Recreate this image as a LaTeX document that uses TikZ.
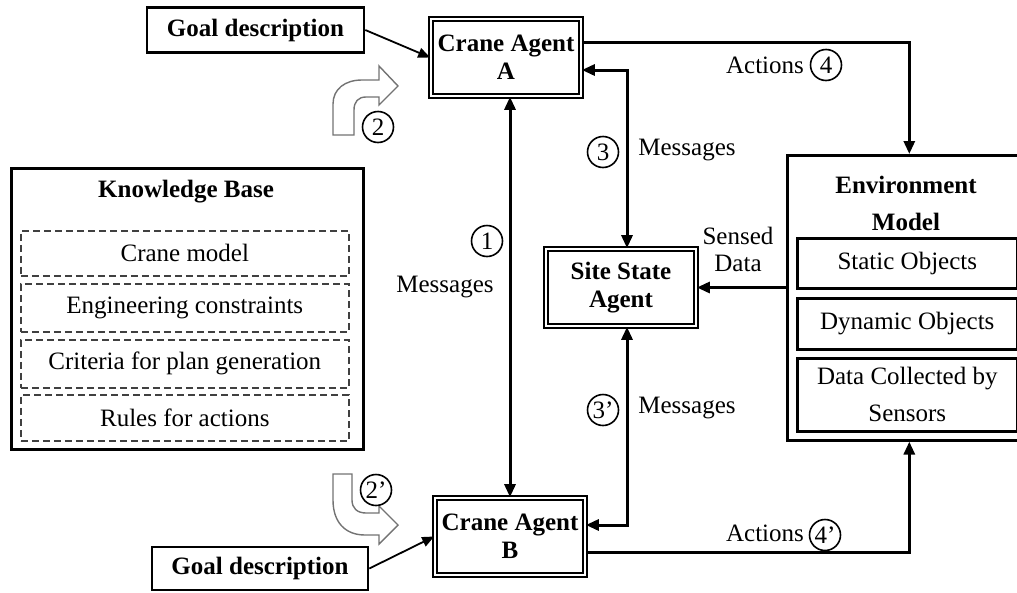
\documentclass[tikz,border=0pt]{standalone}
\usepackage{fontspec}
\setmainfont{Liberation Serif}
\usetikzlibrary{arrows.meta,calc}
\begin{document}
\begin{tikzpicture}[x=1pt,y=-1pt,
  font=\fontsize{25}{28}\selectfont,
  plainbox/.style={draw, line width=2.6pt, inner sep=0pt, align=center},
  dbox/.style={draw, double, line width=1.9pt, double distance=2.4pt, inner sep=0pt,
    minimum width=149.8pt, minimum height=76.8pt, align=center, font=\fontsize{25}{28}\selectfont\bfseries},
  dashbox/.style={draw=black!75, dash pattern=on 7pt off 4pt, line width=1.6pt, inner sep=0pt,
    minimum width=328pt, anchor=north west},
  subbox/.style={draw, line width=2.6pt, inner sep=0pt, minimum width=220pt, anchor=north west, align=center},
  numc/.style={circle, draw, line width=1.6pt, minimum size=31pt, inner sep=0pt, fill=white},
  lbl/.style={inner sep=0pt, align=center},
  conn/.style={line width=3pt, -{Triangle[length=13pt,width=11pt]}},
  biconn/.style={line width=3pt, {Triangle[length=13pt,width=11pt]}-{Triangle[length=13pt,width=11pt]}},
  thinconn/.style={line width=1.8pt, -{Triangle[length=12pt,width=10pt]}},
  hollow/.style={draw=black!55, line width=1.4pt, fill=white, line join=miter}
]
\useasboundingbox (0,0) rectangle (1017,592);

% boxes
\node[plainbox, font=\fontsize{25}{28}\selectfont\bfseries, minimum width=217pt, minimum height=45pt] (goalA) at (255.5,30) {Goal description};
\node[plainbox, font=\fontsize{25}{28}\selectfont\bfseries, minimum width=216pt, minimum height=43pt] (goalB) at (260,568.5) {Goal description};
\node[dbox] (craneA) at (506,57.5) {Crane Agent\\A};
\node[dbox] (craneB) at (510,536.5) {Crane Agent\\B};
\node[dbox] (site) at (621,287.5) {Site State\\Agent};

% knowledge base
\node[plainbox, minimum width=352pt, minimum height=281pt, anchor=north west] (kb) at (10,167) {};
\node[lbl, font=\fontsize{25}{28}\selectfont\bfseries] (kbt) at (186,192) {Knowledge Base};
\node[dashbox, minimum height=45pt] (kb1) at (20,230) {};
\node[lbl] (kb1t) at (kb1.center) {Crane model};
\node[dashbox, minimum height=48pt] (kb2) at (20,283) {};
\node[lbl] (kb2t) at (kb2.center) {Engineering constraints};
\node[dashbox, minimum height=48pt] (kb3) at (20,339) {};
\node[lbl] (kb3t) at (kb3.center) {Criteria for plan generation};
\node[dashbox, minimum height=46pt] (kb4) at (20,394) {};
\node[lbl] (kb4t) at (kb4.center) {Rules for actions};

% environment
\node[plainbox, minimum width=244pt, minimum height=285pt, anchor=north west] (env) at (786,154) {};
\node[lbl, font=\fontsize{25}{28}\selectfont\bfseries] (envt) at (906,203) {Environment\\[9pt]Model};
\node[subbox, minimum height=50pt] (static) at (796,237) {Static Objects};
\node[subbox, minimum height=51pt] (dynamic) at (796,297) {Dynamic Objects};
\node[subbox, minimum height=73pt] (data) at (796,357) {Data Collected by\\[9pt]Sensors};

% connectors
\draw[thinconn] (goalA.east) -- (craneA.west);
\draw[thinconn] (goalB.east) -- (craneB.west);
\draw[biconn] (craneA.south -| craneB.north) -- (craneB.north);
\draw[biconn] ([yshift=-12.5pt]craneA.east) -| ([xshift=6pt]site.north);
\draw[biconn] ([xshift=6pt]site.south) |- ([yshift=11.5pt]craneB.east);
\draw[conn] ([yshift=15.5pt]craneA.east) -| (env.north);
\draw[conn] ([yshift=-15.5pt]craneB.east) -| (env.south);
\draw[conn] (env.west |- site.east) -- (site.east);

% hollow bent arrows
\draw[hollow] (333,135) -- (333,104) .. controls (333,89) and (345,80) .. (362,80) -- (379,80) -- (379,66)
  -- (398,86) -- (379,105) -- (379,97) -- (366,97) .. controls (358,97) and (354,102) .. (354,110) -- (354,135) -- cycle;
\draw[hollow] (333,474) -- (333,500) .. controls (333,522) and (345,535) .. (365,535) -- (379,535) -- (379,544)
  -- (398,525) -- (379,506) -- (379,513) -- (366,513) .. controls (357,513) and (352,508) .. (352,500) -- (352,474) -- cycle;

% labels
\node[numc] (n1) at (487,241) {1};
\node[numc] (n2) at (378,127) {2};
\node[numc] (n2b) at (376,490) {2’};
\node[numc] (n3) at (603,152) {3};
\node[numc] (n3b) at (603,410) {3’};
\node[numc] (n4) at (826,65) {4};
\node[numc] (n4b) at (825,535) {4’};
\node[lbl] (actA) at (765,65) {Actions};
\node[lbl] (actB) at (765,533) {Actions};
\node[lbl] (msg1) at (445,287) {Messages};
\node[lbl] (msg3) at (687,150) {Messages};
\node[lbl] (msg3b) at (687,408) {Messages};
\node[lbl, font=\fontsize{25}{27}\selectfont] (sensed) at (738,249) {Sensed\\Data};
\end{tikzpicture}
\end{document}
